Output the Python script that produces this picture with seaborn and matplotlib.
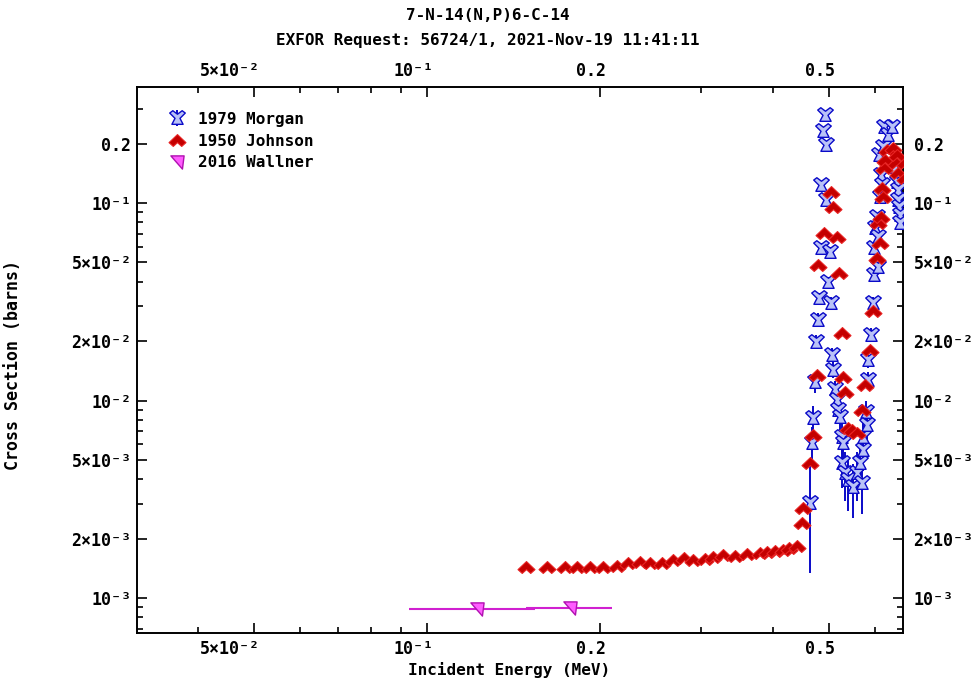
import matplotlib
matplotlib.use("Agg")
import matplotlib.pyplot as plt
import matplotlib.ticker as mticker
import matplotlib.transforms as mtransforms
from matplotlib.path import Path
from matplotlib.lines import Line2D
from matplotlib.legend_handler import HandlerTuple
import numpy as np
import pandas as pd
import seaborn as sns

# ---------------- data ----------------
morgan_energy = [0.4634, 0.4671, 0.4690, 0.4728, 0.4740, 0.4785, 0.4800, 0.4843, 0.4850, 0.4881,
                 0.4921, 0.4930, 0.4940, 0.4980, 0.5020, 0.5040, 0.5060, 0.5080, 0.5121, 0.5162,
                 0.5182, 0.5224, 0.5267, 0.5288, 0.5275, 0.5331, 0.5396, 0.5505, 0.5593, 0.5661,
                 0.5707, 0.5720, 0.5730, 0.5799, 0.5822, 0.5835, 0.5846, 0.5916, 0.5964, 0.5975,
                 0.5990, 0.6012, 0.6060, 0.6084, 0.6095, 0.6100, 0.6133, 0.6145, 0.6190, 0.6207,
                 0.6220, 0.6333, 0.6434, 0.6512, 0.6564, 0.6590, 0.6600, 0.6616, 0.6643, 0.6655]
morgan_xs = [3.03e-3, 6.09e-3, 8.15e-3, 1.24e-2, 1.98e-2, 2.56e-2, 3.30e-2, 5.92e-2, 0.1233, 0.2316,
             0.2790, 0.1966, 0.1036, 0.0398, 0.0565, 0.0312, 0.0170, 0.0143, 0.0114, 0.01006,
             0.00895, 0.00825, 0.00654, 0.00609, 0.00483, 0.00429, 0.00396, 0.00365, 0.00429, 0.00483,
             0.00382, 0.00562, 0.00654, 0.00874, 0.00751, 0.0127, 0.0160, 0.0215, 0.0312, 0.0432,
             0.0592, 0.0747, 0.0849, 0.0474, 0.0673, 0.1750, 0.1072, 0.1386, 0.1233, 0.1921,
             0.2425, 0.2210, 0.2425, 0.1522, 0.1277, 0.1164, 0.1036, 0.0954, 0.0869, 0.0792]
morgan_err_pct = [56, 20, 15, 12, 8, 8, 6, 6, 5, 5,
                  4, 5, 5, 6, 6, 7, 8, 9, 10, 11,
                  12, 14, 18, 20, 25, 28, 30, 30, 28, 25,
                  30, 22, 18, 14, 16, 10, 9, 8, 7, 6,
                  6, 5, 5, 6, 6, 5, 5, 5, 5, 5,
                  5, 5, 5, 5, 5, 5, 5, 6, 6, 6]

johnson_energy = [0.1486, 0.1616, 0.1737, 0.1822, 0.1920, 0.2023, 0.2140, 0.2236, 0.2346, 0.2442,
                  0.2562, 0.2677, 0.2798, 0.2901, 0.3043, 0.3143, 0.3271, 0.3431, 0.3600, 0.3793,
                  0.3901, 0.4028, 0.4159, 0.4260, 0.4398,
                  0.4487, 0.4506, 0.4634, 0.4690, 0.4765, 0.4785, 0.4901, 0.5040, 0.5080, 0.5162,
                  0.5204, 0.5267, 0.5288, 0.5331, 0.5396, 0.5483, 0.5593, 0.5707, 0.5776, 0.5893,
                  0.5952, 0.6060, 0.6084, 0.6133, 0.6145, 0.6190, 0.6207, 0.6220, 0.6257, 0.6307,
                  0.6460, 0.6550, 0.6564, 0.6590, 0.6780, 0.6780]
johnson_xs = [1.44e-3, 1.44e-3, 1.44e-3, 1.44e-3, 1.44e-3, 1.44e-3, 1.45e-3, 1.50e-3, 1.52e-3, 1.50e-3,
              1.51e-3, 1.56e-3, 1.59e-3, 1.56e-3, 1.58e-3, 1.62e-3, 1.65e-3, 1.64e-3, 1.67e-3, 1.69e-3,
              1.70e-3, 1.73e-3, 1.75e-3, 1.79e-3, 1.83e-3,
              2.40e-3, 2.86e-3, 4.83e-3, 6.69e-3, 1.35e-2, 4.86e-2, 7.05e-2, 0.1137, 0.0954, 0.0673,
              0.0442, 0.0220, 0.0132, 0.0110, 7.26e-3, 7.10e-3, 6.85e-3, 8.95e-3, 1.20e-2, 1.80e-2,
              2.85e-2, 5.27e-2, 7.92e-2, 6.27e-2, 8.49e-2, 0.1191, 0.1072, 0.1504, 0.1651, 0.1855,
              0.1899, 0.1594, 0.1750, 0.1419, 0.159, 0.134]

wallner_energy = [0.1222, 0.1772]
wallner_e_low = [0.0930, 0.1486]
wallner_e_high = [0.1540, 0.2098]
wallner_xs = [8.8e-4, 8.9e-4]

x_ticks = [0.05, 0.1, 0.2, 0.5]
x_tick_labels = ["5×10⁻²", "10⁻¹", "0.2", "0.5"]
x_minor = [0.04, 0.06, 0.07, 0.08, 0.09, 0.3, 0.4, 0.6]
y_ticks = [1e-3, 2e-3, 5e-3, 1e-2, 2e-2, 5e-2, 1e-1, 2e-1]
y_tick_labels = ["10⁻³", "2×10⁻³", "5×10⁻³", "10⁻²", "2×10⁻²", "5×10⁻²", "10⁻¹", "0.2"]
y_minor = [7e-4, 8e-4, 9e-4, 3e-3, 4e-3, 6e-3, 7e-3, 8e-3, 9e-3,
           3e-2, 4e-2, 6e-2, 7e-2, 8e-2, 9e-2, 3e-1]

morgan = pd.DataFrame({"E": morgan_energy, "xs": morgan_xs,
                       "dxs": np.array(morgan_xs) * np.array(morgan_err_pct) / 100.0})
johnson = pd.DataFrame({"E": johnson_energy, "xs": johnson_xs})
wallner = pd.DataFrame({"E": wallner_energy, "xs": wallner_xs,
                        "lo": wallner_e_low, "hi": wallner_e_high})

# ---------------- style ----------------
sns.set_theme(style="ticks")
FONT = ["DejaVu Sans Mono", "DejaVu Sans"]
plt.rcParams["font.family"] = FONT
plt.rcParams["font.weight"] = "bold"
plt.rcParams["axes.labelweight"] = "bold"
for key in ("text.color", "axes.labelcolor", "xtick.color", "ytick.color",
            "xtick.labelcolor", "ytick.labelcolor", "axes.edgecolor"):
    plt.rcParams[key] = "black"

BLUE_FILL, BLUE_EDGE = "#b9c2f7", "#0a0ac8"
RED_FILL, RED_EDGE = "#c40000", "#e82424"
MAG_FILL, MAG_EDGE = "#ff5cff", "#b010b0"

# custom symbols
morgan_marker = Path([(-1.0, 0.7), (-0.6, 1.0), (0.0, 0.55), (0.6, 1.0), (1.0, 0.7),
                      (0.32, 0.02), (0.72, -0.75), (-0.72, -0.75), (-0.32, 0.02), (-1.0, 0.7)],
                     closed=True)
johnson_marker = Path([(0.0, 0.7), (1.0, -0.25), (0.5, -0.7), (0.0, -0.25), (-0.5, -0.7),
                       (-1.0, -0.25), (0.0, 0.7)], closed=True)
wallner_marker = Path([(-1.0, 1.0), (1.0, 1.0), (0.75, -1.0), (-1.0, 1.0)], closed=True)

fig = plt.figure(figsize=(9.75, 6.81), dpi=100)
ax = fig.add_axes([137 / 975, 1 - 633 / 681, 766 / 975, 546 / 681])
ax.set_xscale("log")
ax.set_yscale("log")

# Morgan 1979: error bars + symbols
ax.errorbar(morgan["E"], morgan["xs"], yerr=morgan["dxs"], fmt="none",
            ecolor=BLUE_EDGE, elinewidth=1.4, capsize=0, zorder=2)
sns.scatterplot(data=morgan, x="E", y="xs", ax=ax, marker=morgan_marker, s=125,
                color=BLUE_FILL, edgecolor=BLUE_EDGE, linewidth=1.0, legend=False, zorder=3)

# Johnson 1950
sns.scatterplot(data=johnson, x="E", y="xs", ax=ax, marker=johnson_marker, s=150,
                color=RED_FILL, edgecolor=RED_EDGE, linewidth=0.8, legend=False, zorder=4)

# Wallner 2016: energy bins + symbols
ax.errorbar(wallner["E"], wallner["xs"],
            xerr=[wallner["E"] - wallner["lo"], wallner["hi"] - wallner["E"]],
            fmt="none", ecolor="#d020d0", elinewidth=1.5, capsize=0, zorder=2)
sns.scatterplot(data=wallner, x="E", y="xs", ax=ax, marker=wallner_marker, s=90,
                color=MAG_FILL, edgecolor=MAG_EDGE, linewidth=1.0, legend=False, zorder=3)

# ---------------- axes ----------------
ax.set_xlim(0.03129, 0.6724)
ax.set_ylim(6.65e-4, 0.3867)
ax.xaxis.set_major_locator(mticker.FixedLocator(x_ticks))
ax.xaxis.set_major_formatter(mticker.FixedFormatter(x_tick_labels))
ax.xaxis.set_minor_locator(mticker.FixedLocator(x_minor))
ax.xaxis.set_minor_formatter(mticker.NullFormatter())
ax.yaxis.set_major_locator(mticker.FixedLocator(y_ticks))
ax.yaxis.set_major_formatter(mticker.FixedFormatter(y_tick_labels))
ax.yaxis.set_minor_locator(mticker.FixedLocator(y_minor))
ax.yaxis.set_minor_formatter(mticker.NullFormatter())

ax.tick_params(which="both", direction="in", top=True, right=True,
               labeltop=True, labelright=True, color="black", labelcolor="black",
               labelsize=12)
ax.tick_params(which="major", length=7.5, width=1.2)
ax.tick_params(which="minor", length=4.5, width=1.2)
ax.tick_params(axis="x", which="major", pad=5)
ax.tick_params(axis="y", which="major", pad=4)
for sp in ax.spines.values():
    sp.set_linewidth(1.4)
    sp.set_color("black")
ax.grid(False)

# energy labels sit just to the left of their tick
shift = mtransforms.ScaledTranslation(6 / 100, 0, fig.dpi_scale_trans)
for t in ax.xaxis.get_major_ticks():
    for lab in (t.label1, t.label2):
        lab.set_horizontalalignment("right")
        lab.set_transform(lab.get_transform() + shift)
shift_r = mtransforms.ScaledTranslation(5 / 100, 0, fig.dpi_scale_trans)
for t in ax.yaxis.get_major_ticks():
    t.label2.set_transform(t.label2.get_transform() + shift_r)

ax.set_xlabel("Incident Energy (MeV)", fontsize=11.5, fontweight="bold", color="black")
ax.xaxis.set_label_coords(0.486, -0.054)
ax.set_ylabel("Cross Section (barns)", fontsize=12, fontweight="bold", color="black")
ax.yaxis.set_label_coords(-0.150, 0.49)

fig.text(0.5, 1 - 16 / 681, "7-N-14(N,P)6-C-14", ha="center", va="center",
         fontsize=11.5, fontweight="bold", color="black")
fig.text(0.5, 1 - 40 / 681, "EXFOR Request: 56724/1, 2021-Nov-19 11:41:11", ha="center",
         va="center", fontsize=11.5, fontweight="bold", color="black")

# ---------------- legend ----------------
h_morgan = (Line2D([], [], linestyle="none", marker="|", markersize=12,
                   markeredgewidth=1.4, color=BLUE_EDGE),
            Line2D([], [], linestyle="none", marker=morgan_marker, markersize=11.2,
                   markerfacecolor=BLUE_FILL, markeredgecolor=BLUE_EDGE, markeredgewidth=1.0))
h_johnson = Line2D([], [], linestyle="none", marker=johnson_marker, markersize=12.2,
                   markerfacecolor=RED_FILL, markeredgecolor=RED_EDGE, markeredgewidth=0.8)
h_wallner = Line2D([], [], linestyle="none", marker=wallner_marker, markersize=9.5,
                   markerfacecolor=MAG_FILL, markeredgecolor=MAG_EDGE, markeredgewidth=1.0)
leg = ax.legend([h_morgan, h_johnson, h_wallner], ["1979 Morgan", "1950 Johnson", "2016 Wallner"],
                handler_map={tuple: HandlerTuple(ndivide=1)},
                loc="upper left", bbox_to_anchor=(0.030, 0.966), frameon=False,
                handlelength=1.3, handletextpad=0.7, labelspacing=0.42, borderaxespad=0,
                prop={"family": FONT, "weight": "bold", "size": 11.5})
for txt in leg.get_texts():
    txt.set_color("black")

fig.savefig("out.png", dpi=100)
